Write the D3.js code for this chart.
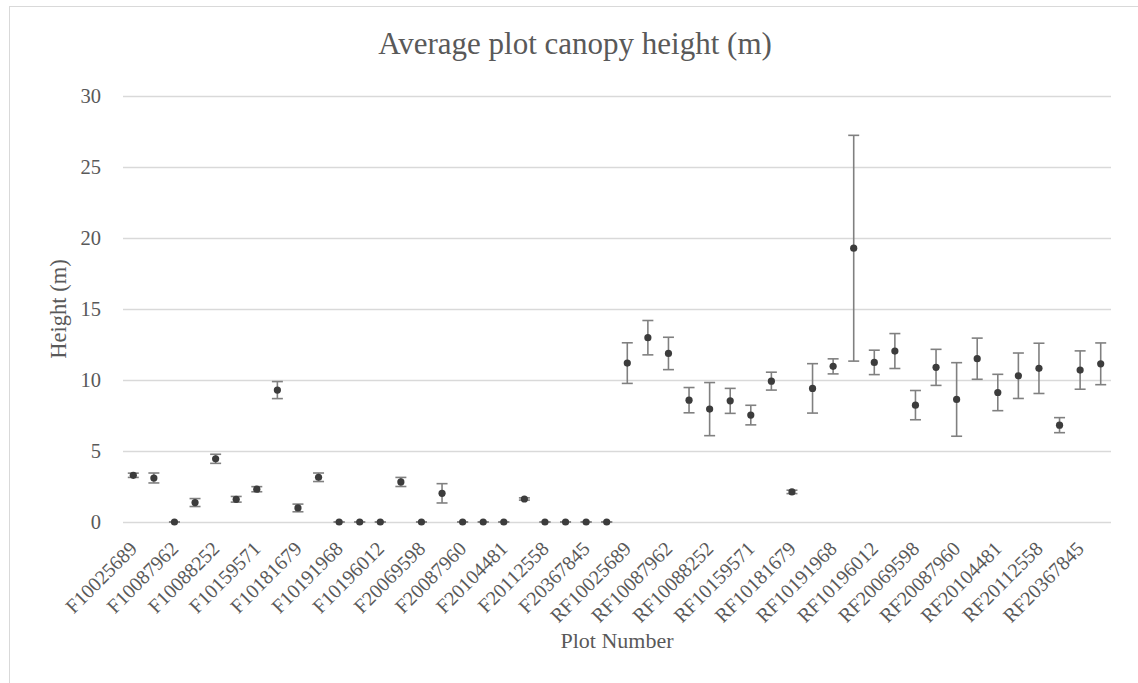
<!DOCTYPE html>
<html>
<head>
<meta charset="utf-8">
<script src="https://cdn.jsdelivr.net/npm/d3@7"></script>
<style>
  body { margin: 0; background: #fff; }
  svg { display: block; }
  svg text { font-family: "Liberation Serif", "DejaVu Serif", serif; }
</style>
</head>
<body>
<svg id="chart"></svg>
<script>
// plot ids shown on the axis; each plot has two entries, only the first one is labelled
const plotIds = [
  "F10025689", "F10087962", "F10088252", "F10159571", "F10181679", "F10191968",
  "F10196012", "F20069598", "F20087960", "F20104481", "F20112558", "F20367845",
  "RF10025689", "RF10087962", "RF10088252", "RF10159571", "RF10181679", "RF10191968",
  "RF10196012", "RF20069598", "RF20087960", "RF20104481", "RF20112558", "RF20367845"
]
const categories = plotIds.flatMap(id => [id + "-1", id + "-2"])
const tickLabels = categories.map((c, i) => i % 2 === 0 ? plotIds[i / 2] : "")

// mean canopy height (m)
const heights = [
  3.29, 3.10, 0, 1.37, 4.45, 1.60, 2.31, 9.29, 0.99, 3.15, 0, 0,
  0, 2.82, 0, 2.02, 0, 0, 0, 1.62, 0, 0, 0, 0,
  11.19, 12.98, 11.87, 8.58, 7.95, 8.53, 7.53, 9.92, 2.12, 9.41, 10.96, 19.28,
  11.24, 12.04, 8.23, 10.89, 8.63, 11.50, 9.12, 10.30, 10.82, 6.82, 10.70, 11.14
]
// error (+/-) for each point
const errors = [
  0.15, 0.35, 0, 0.28, 0.32, 0.20, 0.18, 0.60, 0.27, 0.30, 0, 0,
  0, 0.32, 0, 0.68, 0, 0, 0, 0.08, 0, 0, 0, 0,
  1.43, 1.21, 1.14, 0.89, 1.87, 0.88, 0.69, 0.63, 0.12, 1.74, 0.53, 7.95,
  0.86, 1.23, 1.03, 1.27, 2.59, 1.45, 1.28, 1.60, 1.77, 0.53, 1.35, 1.47
]
const yTicks = [0, 5, 10, 15, 20, 25, 30]

const width = 1138, height = 683
const margin = {left: 123, right: 1138 - 1111, top: 96, bottom: 683 - 522}
const textColor = "#595959"

const svg = d3.select("#chart").attr("width", width).attr("height", height)

// chart border (right and bottom run off the picture)
svg.append("rect")
  .attr("x", 9.5).attr("y", 6.5)
  .attr("width", 1200).attr("height", 800)
  .attr("fill", "none").attr("stroke", "#d9d9d9").attr("stroke-width", 1)

const x = d3.scaleBand()
  .domain(categories)
  .range([margin.left, width - margin.right])

const y = d3.scaleLinear()
  .domain([0, 30])
  .range([height - margin.bottom, margin.top])

// gridlines
svg.append("g")
  .selectAll("line")
  .data(yTicks)
  .enter().append("line")
  .attr("x1", margin.left).attr("x2", width - margin.right)
  .attr("y1", d => Math.round(y(d)) + 0.5).attr("y2", d => Math.round(y(d)) + 0.5)
  .attr("stroke", "#d9d9d9").attr("stroke-width", 1.3)

// y axis labels
const yAxis = svg.append("g")
  .attr("transform", `translate(${margin.left},0)`)
  .call(d3.axisLeft(y).tickValues(yTicks).tickSize(0).tickPadding(22))
yAxis.attr("font-family", null).attr("font-size", null)
yAxis.select(".domain").remove()
yAxis.selectAll("text")
  .attr("fill", textColor)
  .style("font-size", "20.5px")

// x axis labels, rotated
const xAxis = svg.append("g")
  .attr("transform", `translate(0,${height - margin.bottom})`)
  .call(d3.axisBottom(x).tickFormat((d, i) => tickLabels[i]).tickSize(0))
xAxis.attr("font-family", null).attr("font-size", null)
xAxis.select(".domain").remove()
xAxis.selectAll("text")
  .attr("fill", textColor)
  .attr("y", 0).attr("dy", 0)
  .attr("text-anchor", "end")
  .attr("transform", "translate(5,28) rotate(-45)")
  .style("font-size", "20px")

// error bars
const points = categories.map((c, i) => ({cat: c, h: heights[i], e: errors[i]}))
const cx = d => x(d.cat) + x.bandwidth() / 2
const capW = 5.5

const bars = svg.append("g")
  .attr("stroke", "#808080").attr("stroke-width", 1.6)
  .selectAll("g")
  .data(points)
  .enter().append("g")

bars.append("line")
  .attr("x1", cx).attr("x2", cx)
  .attr("y1", d => y(d.h - d.e)).attr("y2", d => y(d.h + d.e))
bars.append("line")
  .attr("x1", d => cx(d) - capW).attr("x2", d => cx(d) + capW)
  .attr("y1", d => y(d.h + d.e)).attr("y2", d => y(d.h + d.e))
bars.append("line")
  .attr("x1", d => cx(d) - capW).attr("x2", d => cx(d) + capW)
  .attr("y1", d => y(d.h - d.e)).attr("y2", d => y(d.h - d.e))

// markers
svg.append("g")
  .selectAll("circle")
  .data(points)
  .enter().append("circle")
  .attr("cx", cx)
  .attr("cy", d => y(d.h))
  .attr("r", 3.6)
  .attr("fill", "#3c3c3c")

// titles
svg.append("text")
  .attr("x", 575).attr("y", 54)
  .attr("text-anchor", "middle")
  .attr("fill", textColor)
  .style("font-size", "31px")
  .text("Average plot canopy height (m)")

svg.append("text")
  .attr("x", (margin.left + width - margin.right) / 2).attr("y", 648)
  .attr("text-anchor", "middle")
  .attr("fill", textColor)
  .style("font-size", "22px")
  .text("Plot Number")

svg.append("text")
  .attr("transform", `translate(66,${(y(0) + y(30)) / 2}) rotate(-90)`)
  .attr("text-anchor", "middle")
  .attr("fill", textColor)
  .style("font-size", "22.5px")
  .text("Height (m)")
</script>
</body>
</html>
